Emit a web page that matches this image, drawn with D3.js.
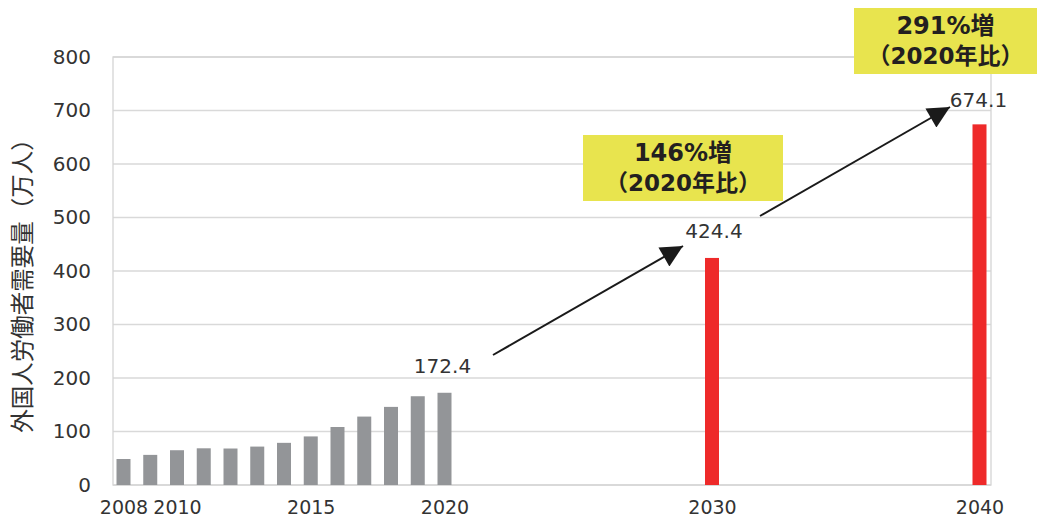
<!DOCTYPE html>
<html><head><meta charset="utf-8">
<script src="https://cdn.jsdelivr.net/npm/d3@7"></script>
<style>
body{margin:0;background:#fff;}
text{font-family:"DejaVu Sans","Noto Sans CJK JP",sans-serif;}
</style></head>
<body><svg id="c" width="1041" height="523"></svg>
<script>
const histYears = [2008,2009,2010,2011,2012,2013,2014,2015,2016,2017,2018,2019,2020];
const histValues = [48.6,56.3,65.0,68.6,68.2,71.8,78.8,90.8,108.4,127.9,146.0,165.9,172.4];
const projYears = [2030,2040];
const projValues = [424.4,674.1];
const xTicks = [2008,2010,2015,2020,2030,2040];
const yTicks = [0,100,200,300,400,500,600,700,800];
const labelYears = [2020,2030,2040];
const labelValues = [172.4,424.4,674.1];
const labelTexts = ["172.4","424.4","674.1"];
const callouts = [["146%増","（2020年比）"],["291%増","（2020年比）"]];
const yTitle = "外国人労働者需要量（万人）";

const svg = d3.select("#c");
const L=113, R=991, T=57, B=485;
const x = d3.scaleLinear().domain([2008,2040]).range([123.5,979.5]);
const y = d3.scaleLinear().domain([0,800]).range([B,T]);

svg.append("g").selectAll("line").data(yTicks).join("line")
  .attr("x1",L).attr("x2",R).attr("y1",d=>y(d)).attr("y2",d=>y(d))
  .attr("stroke","#d9d9d9").attr("stroke-width",1.3);
svg.append("rect").attr("x",L).attr("y",T).attr("width",R-L).attr("height",B-T)
  .attr("fill","none").attr("stroke","#d4d4d4").attr("stroke-width",1.3);

const yAxis = d3.axisLeft(y).tickValues(yTicks).tickSize(0).tickPadding(0);
const ya = svg.append("g").attr("transform",`translate(91,0)`).call(yAxis);
ya.select(".domain").remove();
ya.selectAll("text").attr("font-size",20).attr("fill","#333").attr("font-family","DejaVu Sans");

const xAxis = d3.axisBottom(x).tickValues(xTicks).tickFormat(d3.format("d")).tickSize(0).tickPadding(0);
const xa = svg.append("g").attr("transform",`translate(0,500)`).call(xAxis);
xa.select(".domain").remove();
xa.selectAll("text").attr("font-size",19).attr("fill","#333").attr("font-family","DejaVu Sans");

const bw = 14;
svg.append("g").selectAll("rect").data(histYears.map((d,i)=>[d,histValues[i]])).join("rect")
  .attr("x",d=>x(d[0])-bw/2).attr("width",bw)
  .attr("y",d=>y(d[1])).attr("height",d=>y(0)-y(d[1])).attr("fill","#939598");
svg.append("g").selectAll("rect").data(projYears.map((d,i)=>[d,projValues[i]])).join("rect")
  .attr("x",d=>x(d[0])-bw/2).attr("width",bw)
  .attr("y",d=>y(d[1])).attr("height",d=>y(0)-y(d[1])).attr("fill","#ee2a2a");

svg.append("g").selectAll("text").data(labelYears).join("text")
  .attr("x",(d,i)=>x(d)+[-2,2,-1][i]).attr("y",(d,i)=>y(labelValues[i])-[20,20,17][i])
  .attr("text-anchor","middle").attr("font-size",20).attr("fill","#333")
  .text((d,i)=>labelTexts[i]);

svg.append("defs").append("marker").attr("id","ah").attr("viewBox","0 0 10 10")
  .attr("refX",10).attr("refY",5).attr("markerWidth",30).attr("markerHeight",22)
  .attr("markerUnits","userSpaceOnUse").attr("orient","auto")
  .append("path").attr("d","M0,0L10,5L0,10z").attr("fill","#1a1a1a");
const arrows = [[493,355,683,246],[760,216,950,107]];
svg.append("g").selectAll("line").data(arrows).join("line")
  .attr("x1",d=>d[0]).attr("y1",d=>d[1]).attr("x2",d=>d[2]).attr("y2",d=>d[3])
  .attr("stroke","#1a1a1a").attr("stroke-width",2).attr("marker-end","url(#ah)");

const boxes = [[583,135,200,66],[854,8,183,66]];
boxes.forEach((b,i)=>{
  svg.append("rect").attr("x",b[0]).attr("y",b[1]).attr("width",b[2]).attr("height",b[3]).attr("fill","#e8e44e");
  svg.append("text").attr("x",b[0]+b[2]/2).attr("y",b[1]+26).attr("text-anchor","middle")
    .attr("font-size",24).attr("font-weight","bold").attr("fill","#231f20").text(callouts[i][0]);
  svg.append("text").attr("x",b[0]+b[2]/2).attr("y",b[1]+56).attr("text-anchor","middle")
    .attr("font-size",23).attr("font-weight","bold").attr("fill","#231f20").text(callouts[i][1]);
});

svg.append("text").attr("transform","translate(31,280) rotate(-90)")
  .attr("text-anchor","middle").attr("font-size",23.5).attr("fill","#333")
  .attr("font-family","Noto Sans CJK JP").text(yTitle);
</script></body></html>
